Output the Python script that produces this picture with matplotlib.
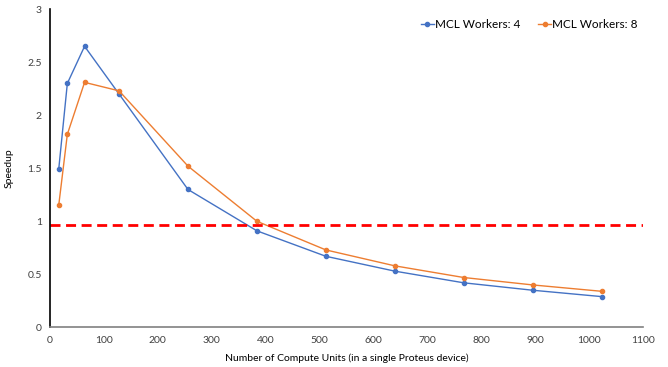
import matplotlib
matplotlib.use("Agg")
import matplotlib.pyplot as plt

# data
compute_units = [16, 32, 64, 128, 256, 384, 512, 640, 768, 896, 1024]
speedup_w4 = [1.49, 2.30, 2.65, 2.20, 1.30, 0.91, 0.67, 0.53, 0.42, 0.35, 0.29]
speedup_w8 = [1.15, 1.82, 2.31, 2.23, 1.52, 1.00, 0.73, 0.58, 0.47, 0.40, 0.34]
baseline = 0.965

xticks = list(range(0, 1101, 100))
yticks = [0, 0.5, 1, 1.5, 2, 2.5, 3]

plt.rcParams['font.family'] = ['Lato', 'DejaVu Sans']

fig = plt.figure(figsize=(6.68, 3.67), dpi=100)
ax = fig.add_axes([0.075, 0.108, 0.887, 0.867])

ax.plot(compute_units, speedup_w4, color='#4472C4', marker='o', markersize=3,
        linewidth=1, label='MCL Workers: 4')
ax.plot(compute_units, speedup_w8, color='#ED7D31', marker='o', markersize=3,
        linewidth=1, label='MCL Workers: 8')
ax.axhline(baseline, color='#FF0000', linestyle=(0, (3.6, 2)), linewidth=2)

ax.set_xlim(0, 1100)
ax.set_ylim(0, 3)
ax.set_xticks(xticks)
ax.set_yticks(yticks)
ax.set_yticklabels(['0', '0.5', '1', '1.5', '2', '2.5', '3'])
ax.tick_params(axis='both', length=0, labelsize=7.5, colors='#404040', pad=6)

for s in ['top', 'right']:
    ax.spines[s].set_visible(False)
ax.spines['left'].set_color('black')
ax.spines['left'].set_linewidth(1.2)
ax.spines['bottom'].set_color('#808080')
ax.spines['bottom'].set_linewidth(1.2)

ax.set_xlabel('Number of Compute Units (in a single Proteus device)', fontsize=7.5,
              color='black', labelpad=6)
ax.set_ylabel('Speedup', fontsize=7.5, color='black', labelpad=10)

ax.legend(loc='upper right', bbox_to_anchor=(1.0, 0.985), ncol=2, frameon=False,
          fontsize=8.5, handlelength=1.1, handletextpad=0.1, columnspacing=1.5,
          borderaxespad=0)

fig.savefig('out.png', dpi=100)
